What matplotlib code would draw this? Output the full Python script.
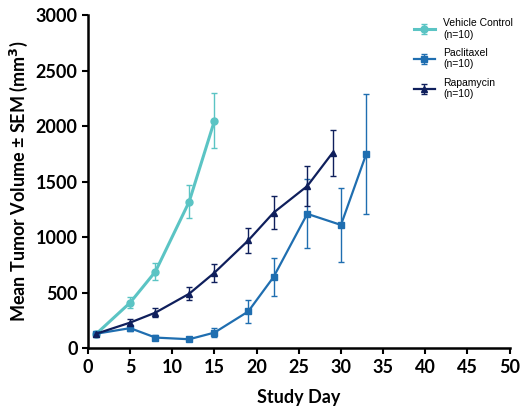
import matplotlib.pyplot as plt

plt.rcParams['font.family'] = ['Lato', 'DejaVu Sans']

veh_day = [1, 5, 8, 12, 15]
veh_vol = [130, 410, 690, 1320, 2050]
veh_err = [20, 50, 80, 150, 250]

pac_day = [1, 5, 8, 12, 15, 19, 22, 26, 30, 33]
pac_vol = [130, 180, 95, 80, 140, 330, 640, 1210, 1110, 1750]
pac_err = [15, 30, 20, 15, 40, 100, 170, 310, 330, 540]

rap_day = [1, 5, 8, 12, 15, 19, 22, 26, 29]
rap_vol = [130, 230, 320, 490, 680, 970, 1220, 1460, 1760]
rap_err = [15, 30, 40, 60, 80, 110, 150, 180, 210]

fig = plt.figure(figsize=(5.27, 4.11), dpi=100)
ax = fig.add_axes([0.167, 0.153, 0.8, 0.81])

ax.errorbar(veh_day, veh_vol, yerr=veh_err, color="#5bc4c4", marker="o", markersize=5,
            lw=2.2, capsize=2.5, elinewidth=1, label="Vehicle Control\n(n=10)")
ax.errorbar(pac_day, pac_vol, yerr=pac_err, color="#1f6eb0", marker="s", markersize=5,
            lw=1.6, capsize=2.5, elinewidth=1, label="Paclitaxel\n(n=10)")
ax.errorbar(rap_day, rap_vol, yerr=rap_err, color="#0f1f5c", marker="^", markersize=5,
            lw=1.6, capsize=2.5, elinewidth=1, label="Rapamycin\n(n=10)")

ax.set_xlim(0, 50)
ax.set_ylim(0, 3000)
ax.set_xticks(range(0, 51, 5))
ax.set_yticks(range(0, 3001, 500))
ax.tick_params(labelsize=13, width=1.5, length=4)
for t in ax.get_xticklabels() + ax.get_yticklabels():
    t.set_fontweight("bold")
for s in ["top", "right"]:
    ax.spines[s].set_visible(False)
for s in ["left", "bottom"]:
    ax.spines[s].set_linewidth(1.8)

ax.set_xlabel("Study Day", fontsize=13, fontweight="bold", labelpad=10)
ax.set_ylabel("Mean Tumor Volume ± SEM (mm$^\\mathbf{3}$)", fontsize=13, fontweight="bold")
ax.legend(loc="upper right", frameon=False, prop={"family": "Liberation Sans", "size": 7.5},
          bbox_to_anchor=(1.03, 1.02), handlelength=2.0, labelspacing=0.8)

fig.savefig("out.png", dpi=100)
